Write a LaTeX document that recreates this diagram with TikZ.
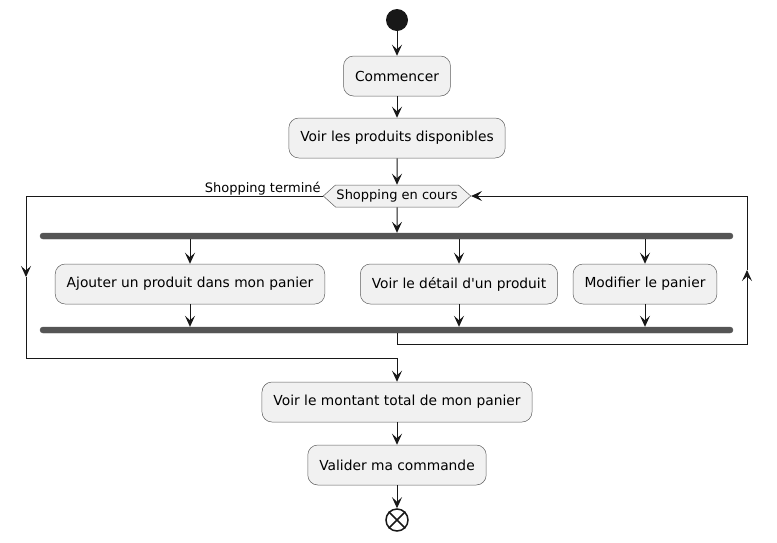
\documentclass[tikz,border=0pt]{standalone}
\usepackage{fontspec}
\setmainfont{DejaVu Sans}
\usetikzlibrary{arrows.meta, shapes.symbols, calc}
\definecolor{actfill}{HTML}{F1F1F1}
\definecolor{actborder}{HTML}{181818}
\definecolor{barfill}{HTML}{555555}
\newcommand{\actfont}{\fontsize{13.8}{16}\selectfont}
\newcommand{\garde}{\fontsize{13}{15}\selectfont}

\begin{document}
\begin{tikzpicture}[x=1pt, y=-1pt,
    >={Stealth[length=11pt, width=10pt, inset=4.5pt]},
    flow/.style={draw=actborder, line width=1pt},
    activity/.style={draw=actborder!70, line width=0.5pt, fill=actfill,
      rounded corners=10pt, minimum height=40pt, inner xsep=11.5pt, font=\actfont},
    syncbar/.style={draw=barfill, fill=barfill, rounded corners=3pt,
      minimum height=6pt, minimum width=693pt, inner sep=0pt}]
  \useasboundingbox (0,0) rectangle (777,542);
  % debut et chaine principale
  \node[circle, fill=actborder, minimum size=22pt, inner sep=0pt] (debut) at (397,20) {};
  \node[activity] (commencer) at (397,76) {Commencer};
  \node[activity] (produits) at (397,138) {Voir les produits disponibles};
  \node[signal, signal to=west and east, signal pointer angle=84, draw=actborder!70,
    line width=0.5pt, fill=actfill, font=\garde, minimum height=22pt,
    inner xsep=1pt, inner ysep=0pt] (shopping) at (397,196) {Shopping en cours};
  \node[anchor=south east, inner sep=1pt, font=\garde] (termine)
    at ($(shopping.west)+(-1,0)$) {Shopping terminé};
  % fourche
  \node[syncbar] (fourche) at (386.5,236) {};
  \node[activity] (ajouter) at (190,284) {Ajouter un produit dans mon panier};
  \node[activity] (detail) at (459,284) {Voir le détail d\textquotesingle un produit};
  \node[activity] (modifier) at (645,284) {Modifier le panier};
  \node[syncbar] (jointure) at (386.5,330) {};
  % suite
  \node[activity] (montant) at (397,402) {Voir le montant total de mon panier};
  \node[activity] (valider) at (397,465) {Valider ma commande};
  \node[circle, draw=actborder, line width=1.5pt, minimum size=22pt, inner sep=0pt] (fin) at (397,520) {};
  \draw[actborder, line width=1.5pt] (fin.north west) -- (fin.south east)
    (fin.north east) -- (fin.south west);
  % boucle
  \coordinate (sortieHaut) at (26,196);
  \coordinate (sortieBas) at (26,358);
  \coordinate (retourBas) at (747,344);
  \coordinate (retourHaut) at (747,196);

  \draw[flow, ->] (debut) -- (commencer);
  \draw[flow, ->] (commencer) -- (produits);
  \draw[flow, ->] (produits) -- (shopping);
  \draw[flow, ->] (shopping) -- (fourche.north -| shopping);
  \foreach \branche in {ajouter, detail, modifier} {
    \draw[flow, ->] (fourche.south -| \branche) -- (\branche);
    \draw[flow, ->] (\branche) -- (jointure.north -| \branche);
  }
  \draw[flow, ->] (shopping.west) -- (sortieHaut) -- ($(sortieHaut)!0.5!(sortieBas)$);
  \draw[flow, ->] ($(sortieHaut)!0.5!(sortieBas)$) -- (sortieBas) -| (montant);
  \draw[flow, ->] (jointure.south -| shopping) |- (retourBas) -- ($(retourBas)!0.5!(retourHaut)$);
  \draw[flow, ->] ($(retourBas)!0.5!(retourHaut)$) -- (retourHaut) -- (shopping.east);
  \draw[flow, ->] (montant) -- (valider);
  \draw[flow, ->] (valider) -- (fin);
\end{tikzpicture}
\end{document}
